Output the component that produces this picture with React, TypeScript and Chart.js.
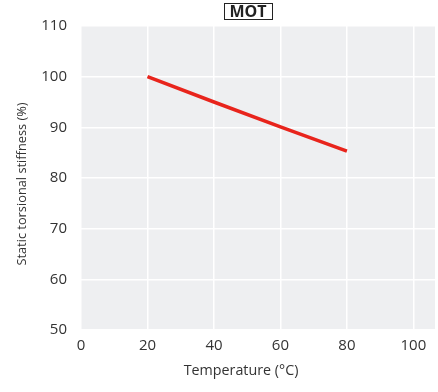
import React, { useEffect, useRef } from "react";
import { Chart, registerables } from "chart.js";

Chart.register(...registerables);

const temperatures = [20, 40, 60, 80];
const stiffness = [100, 95, 90.1, 85.3];
const xTickValues = [0, 20, 40, 60, 80, 100];
const chartTitle = "MOT";
const xTitle = "Temperature (°C)";
const yTitle = "Static torsional stiffness (%)";

const FONT = "'Open Sans', 'Noto Sans', sans-serif";
const TEXT_COLOR = "#333";

const plotBg = {
  id: "plotBg",
  beforeDraw(chart: any) {
    const { ctx, chartArea } = chart;
    ctx.save();
    ctx.fillStyle = "#eeeff1";
    ctx.fillRect(chartArea.left, chartArea.top, chartArea.width, chartArea.height);
    ctx.restore();
  },
};

const textLabels = {
  id: "textLabels",
  afterDraw(chart: any, _args: any, opts: any) {
    const { ctx } = chart;
    ctx.save();
    ctx.textAlign = "center";
    ctx.textBaseline = "middle";
    // boxed chart title
    ctx.font = `bold 16px ${FONT}`;
    ctx.fillStyle = "#222";
    const w = ctx.measureText(opts.title.text).width;
    const { x: cx, y: cy } = opts.title;
    ctx.fillText(opts.title.text, cx, cy + 1);
    ctx.strokeStyle = "#222";
    ctx.lineWidth = 1;
    const bw = Math.round(w + 11);
    const bh = 16;
    ctx.strokeRect(Math.round(cx - bw / 2) + 0.5, Math.round(cy - bh / 2) + 0.5, bw, bh);
    // x axis title
    ctx.fillStyle = TEXT_COLOR;
    ctx.font = `14.3px ${FONT}`;
    ctx.fillText(opts.xTitle.text, opts.xTitle.x, opts.xTitle.y);
    // y axis title
    ctx.font = `12.8px ${FONT}`;
    ctx.translate(opts.yTitle.x, opts.yTitle.y);
    ctx.rotate(-Math.PI / 2);
    ctx.fillText(opts.yTitle.text, 0, 0);
    ctx.restore();
  },
};

export default function App() {
  const ref = useRef<HTMLCanvasElement>(null);

  useEffect(() => {
    document.body.style.margin = "0";
    if (!ref.current) return;
    const chart = new Chart(ref.current, {
      type: "line",
      data: {
        datasets: [
          {
            data: temperatures.map((t, i) => ({ x: t, y: stiffness[i] })),
            borderColor: "#e8241c",
            borderWidth: 3.5,
            pointRadius: 0,
            fill: false,
            tension: 0,
          },
        ],
      },
      plugins: [plotBg, textLabels],
      options: {
        animation: false,
        responsive: false,
        layout: { padding: { top: 26, right: 3, left: 0, bottom: 0 } },
        plugins: {
          legend: { display: false },
          title: { display: false },
          tooltip: { enabled: false },
          textLabels: {
            title: { text: chartTitle, x: 248, y: 11 },
            xTitle: { text: xTitle, x: 241, y: 371 },
            yTitle: { text: yTitle, x: 22, y: 184 },
          },
        } as any,
        scales: {
          x: {
            type: "linear",
            min: 0,
            max: 106.5,
            afterBuildTicks: (scale: any) => {
              scale.ticks = xTickValues.map((v) => ({ value: v }));
            },
            afterFit: (scale: any) => {
              scale.height = 62;
            },
            grid: { color: "#ffffff", lineWidth: 1.5, drawTicks: false },
            border: { display: false },
            ticks: {
              padding: 7,
              color: TEXT_COLOR,
              font: { family: FONT, size: 15 },
              maxRotation: 0,
            },
          },
          y: {
            type: "linear",
            min: 50,
            max: 110,
            afterFit: (scale: any) => {
              scale.width = 81;
            },
            grid: { color: "#ffffff", lineWidth: 1.5, drawTicks: false },
            border: { display: false },
            ticks: {
              stepSize: 10,
              padding: 14,
              color: TEXT_COLOR,
              font: { family: FONT, size: 15 },
            },
          },
        },
      } as any,
    });
    return () => chart.destroy();
  }, []);

  return (
    <div style={{ width: 438, height: 392 }}>
      <canvas ref={ref} width={438} height={392} />
    </div>
  );
}
